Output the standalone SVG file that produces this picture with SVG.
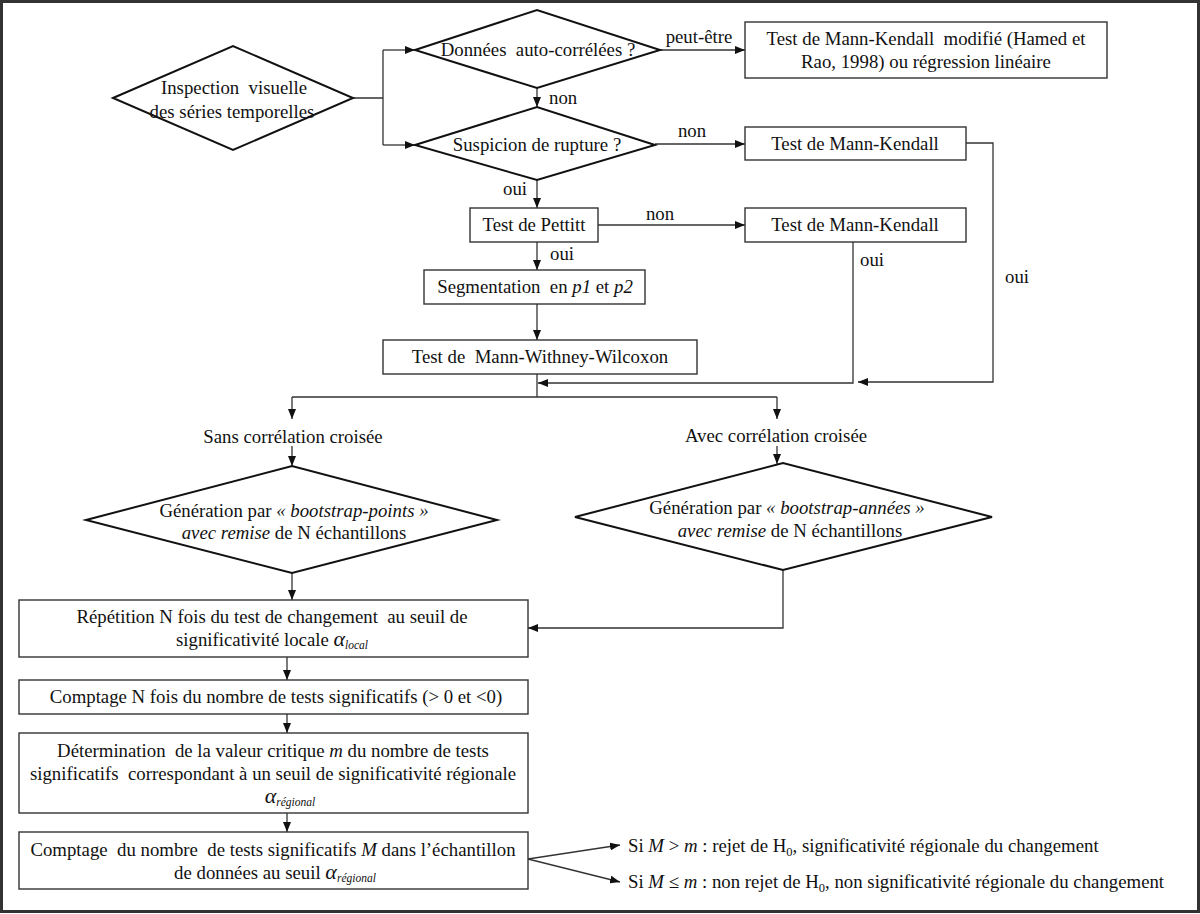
<svg xmlns="http://www.w3.org/2000/svg" width="1200" height="914" viewBox="0 0 1200 914" font-family="'Liberation Serif', 'Times New Roman', serif">
<defs>
<style>
.t{font-family:'Liberation Serif','Times New Roman',serif;font-size:18.8px;fill:#111;text-anchor:middle;white-space:pre}
.l{font-family:'Liberation Serif','Times New Roman',serif;font-size:18.8px;fill:#111;white-space:pre}
.box{fill:#fff;stroke:#333;stroke-width:1.4}
.dia{fill:#fff;stroke:#111;stroke-width:2}
.c{fill:none;stroke:#333;stroke-width:1.3}
.i{font-style:italic}
</style>
<marker id="ar" viewBox="0 0 10 8" refX="10" refY="4" markerWidth="10" markerHeight="8" markerUnits="userSpaceOnUse" orient="auto">
<path d="M0,0 L10,4 L0,8 z" fill="#111"/>
</marker>
</defs>
<rect x="0" y="0" width="1200" height="914" fill="#fff"/>
<rect x="1.5" y="1.5" width="1197" height="910" fill="none" stroke="#333" stroke-width="3"/>

<g id="connectors">
<path class="c" d="M353,98 H383 M383,50 V145"/>
<path class="c" d="M383,50 H415" marker-end="url(#ar)"/>
<path class="c" d="M383,145 H415" marker-end="url(#ar)"/>
<path class="c" d="M660,50 H745" marker-end="url(#ar)"/>
<path class="c" d="M537,88 V107" marker-end="url(#ar)"/>
<path class="c" d="M655,144 H745" marker-end="url(#ar)"/>
<path class="c" d="M537,180 V208" marker-end="url(#ar)"/>
<path class="c" d="M598,225 H745" marker-end="url(#ar)"/>
<path class="c" d="M537,242 V270" marker-end="url(#ar)"/>
<path class="c" d="M537,304 V340" marker-end="url(#ar)"/>
<path class="c" d="M966,143 H993 V382 H858" marker-end="url(#ar)"/>
<path class="c" d="M853,242 V383 H538" marker-end="url(#ar)"/>
<path class="c" d="M537,374 V397 M292,397 H777"/>
<path class="c" d="M292,397 V419" marker-end="url(#ar)"/>
<path class="c" d="M777,397 V419" marker-end="url(#ar)"/>
<path class="c" d="M292,446 V466" marker-end="url(#ar)"/>
<path class="c" d="M777,446 V464" marker-end="url(#ar)"/>
<path class="c" d="M292,573 V600" marker-end="url(#ar)"/>
<path class="c" d="M783,570 V628 H528" marker-end="url(#ar)"/>
<path class="c" d="M287,657 V680" marker-end="url(#ar)"/>
<path class="c" d="M287,714 V733" marker-end="url(#ar)"/>
<path class="c" d="M287,813 V832" marker-end="url(#ar)"/>
<path class="c" d="M528,859 L620,845" marker-end="url(#ar)"/>
<path class="c" d="M528,859 L620,882" marker-end="url(#ar)"/>
</g>

<g id="labels">
<text class="t" x="699" y="43">peut-être</text>
<text class="l" x="549" y="104">non</text>
<text class="t" x="692" y="137">non</text>
<text class="t" x="515" y="195">oui</text>
<text class="t" x="660" y="220">non</text>
<text class="t" x="562" y="260">oui</text>
<text class="t" x="872" y="266">oui</text>
<text class="t" x="1017" y="283">oui</text>
<text class="t" x="293" y="443">Sans corrélation croisée</text>
<text class="t" x="776" y="442">Avec corrélation croisée</text>
</g>

<g id="n-inspection">
<polygon class="dia" points="113,98 233,46 353,98 233,150"/>
<text class="t" x="234" y="94">Inspection  visuelle</text>
<text class="t" x="232" y="118">des séries temporelles</text>
</g>

<g id="n-autocorr">
<polygon class="dia" points="415,50 537,10 660,50 537,88"/>
<text class="t" x="538" y="56">Données  auto-corrélées ?</text>
</g>

<g id="n-mkmod">
<rect class="box" x="745" y="22" width="362" height="56"/>
<text class="t" x="926" y="45">Test de Mann-Kendall  modifié (Hamed et</text>
<text class="t" x="926" y="68">Rao, 1998) ou régression linéaire</text>
</g>

<g id="n-rupture">
<polygon class="dia" points="415,145 537,107 655,145 537,180"/>
<text class="t" x="537" y="151">Suspicion de rupture ?</text>
</g>

<g id="n-mk1">
<rect class="box" x="745" y="127" width="221" height="33"/>
<text class="t" x="855" y="150">Test de Mann-Kendall</text>
</g>

<g id="n-pettitt">
<rect class="box" x="470" y="208" width="128" height="34"/>
<text class="t" x="534" y="231">Test de Pettitt</text>
</g>

<g id="n-mk2">
<rect class="box" x="745" y="208" width="221" height="34"/>
<text class="t" x="855" y="231">Test de Mann-Kendall</text>
</g>

<g id="n-segmentation">
<rect class="box" x="424" y="270" width="221" height="34"/>
<text class="t" x="535" y="293">Segmentation  en <tspan class="i">p1</tspan> et <tspan class="i">p2</tspan></text>
</g>

<g id="n-mww">
<rect class="box" x="383" y="340" width="314" height="34"/>
<text class="t" x="540" y="363">Test de  Mann-Withney-Wilcoxon</text>
</g>

<g id="n-bootpoints">
<polygon class="dia" points="86,520 292,466 497,520 292,573"/>
<text class="t" x="294" y="517">Génération par <tspan class="i">« bootstrap-points »</tspan></text>
<text class="t" x="294" y="539"><tspan class="i">avec remise</tspan> de N échantillons</text>
</g>

<g id="n-bootannees">
<polygon class="dia" points="575,517 783,463 992,517 783,570"/>
<text class="t" x="787" y="514">Génération par <tspan class="i">« bootstrap-années »</tspan></text>
<text class="t" x="790" y="537"><tspan class="i">avec remise</tspan> de N échantillons</text>
</g>

<g id="n-repetition">
<rect class="box" x="19" y="600" width="509" height="57"/>
<text class="t" x="272" y="623">Répétition N fois du test de changement  au seuil de</text>
<text class="t" x="272" y="646">significativité locale <tspan class="i" font-size="22">α</tspan><tspan class="i" font-size="11.5" dy="3">local</tspan></text>
</g>

<g id="n-comptage1">
<rect class="box" x="19" y="680" width="509" height="34"/>
<text class="t" x="276" y="703">Comptage N fois du nombre de tests significatifs (&gt; 0 et &lt;0)</text>
</g>

<g id="n-determination">
<rect class="box" x="19" y="733" width="509" height="80"/>
<text class="t" x="273" y="757">Détermination  de la valeur critique <tspan class="i">m</tspan> du nombre de tests</text>
<text class="t" x="273" y="780">significatifs  correspondant à un seuil de significativité régionale</text>
<text class="t" x="290" y="803"><tspan class="i" font-size="22">α</tspan><tspan class="i" font-size="11.5" dy="3">régional</tspan></text>
</g>

<g id="n-comptage2">
<rect class="box" x="19" y="832" width="509" height="57"/>
<text class="t" x="273" y="856">Comptage  du nombre  de tests significatifs <tspan class="i">M</tspan> dans l’échantillon</text>
<text class="t" x="275" y="879">de données au seuil <tspan class="i" font-size="22">α</tspan><tspan class="i" font-size="11.5" dy="3">régional</tspan></text>
</g>

<g id="n-results">
<text class="l" x="628" y="852">Si <tspan class="i">M</tspan> &gt; <tspan class="i">m</tspan> : rejet de H<tspan font-size="12.5" dy="4">0</tspan><tspan dy="-4">, significativité régionale du changement</tspan></text>
<text class="l" x="628" y="888">Si <tspan class="i">M</tspan> ≤ <tspan class="i">m</tspan> : non rejet de H<tspan font-size="12.5" dy="4">0</tspan><tspan dy="-4">, non significativité régionale du changement</tspan></text>
</g>
</svg>
